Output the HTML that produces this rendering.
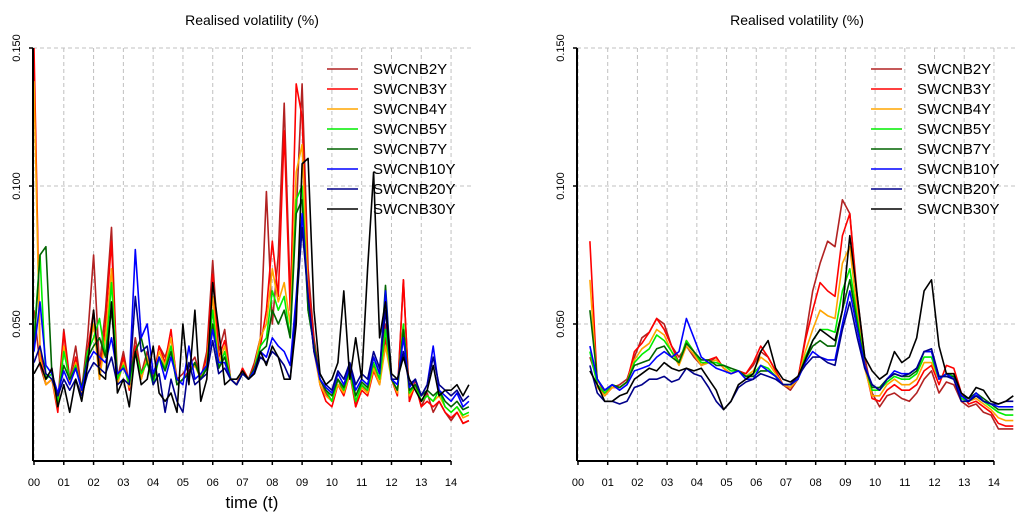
<!DOCTYPE html>
<html><head><meta charset="utf-8"><style>
html,body{margin:0;padding:0;background:#fff;}
svg{display:block;font-family:"Liberation Sans",sans-serif;}
</style></head><body>
<svg id="c" width="1024" height="519" viewBox="0 0 1024 519" xmlns="http://www.w3.org/2000/svg"></svg>
<script>
// values in thousandths (x 1e-3)
const seriesNames = ["SWCNB2Y","SWCNB3Y","SWCNB4Y","SWCNB5Y","SWCNB7Y","SWCNB10Y","SWCNB20Y","SWCNB30Y"];
const seriesColors = ["#b22222","#ff0000","#ffa500","#00ee00","#006400","#0000ff","#00008b","#000000"];
const yTickValues = [50,100,150];
const yTickLabels = ["0.050","0.100","0.150"];
const xTickLabels = ["00","01","02","03","04","05","06","07","08","09","10","11","12","13","14"];
const leftStart = 0, leftStep = 0.2;
const left2Y = [55,35,28,30,22,48,30,42,26,45,75,35,55,85,30,40,28,45,32,40,30,42,38,45,30,32,35,38,30,40,73,40,48,30,28,34,30,36,45,98,50,75,130,60,90,137,70,45,30,25,22,30,25,35,20,28,25,35,30,50,30,25,66,22,30,20,25,18,22,18,15,18,14,15];
const left3Y = [150,40,28,30,18,47,28,38,25,40,55,30,50,80,28,38,26,42,30,38,28,42,36,48,28,30,33,36,30,38,68,38,44,30,28,34,30,35,42,55,80,60,120,55,137,125,65,42,28,22,20,28,24,32,20,26,24,33,28,45,30,24,66,22,28,20,22,20,22,18,16,18,14,15];
const left4Y = [138,38,28,30,20,42,28,36,25,38,50,30,45,70,28,36,27,40,30,38,28,40,35,45,28,30,32,35,30,36,60,36,42,30,28,33,30,34,45,50,70,58,65,50,105,115,60,40,28,24,22,28,25,32,22,27,25,34,28,42,30,25,50,24,28,22,24,22,24,20,18,20,16,17];
const left5Y = [45,75,30,32,22,40,30,35,26,40,45,52,38,65,30,35,28,40,32,36,28,38,34,42,28,30,32,36,30,35,55,34,40,30,28,32,30,34,42,45,62,55,60,45,95,100,55,42,30,26,22,30,26,33,22,28,26,36,30,48,30,26,50,25,28,22,24,22,26,20,18,20,17,18];
const left7Y = [42,75,78,32,24,35,30,34,27,38,42,45,38,55,32,34,30,40,45,36,30,38,33,40,28,30,32,36,30,34,50,34,38,30,28,32,30,34,40,42,55,50,55,45,90,95,55,42,30,26,24,30,27,34,24,29,27,38,32,64,30,26,48,26,28,24,26,24,26,22,20,22,19,20];
const left10Y = [40,58,35,32,25,33,28,34,26,36,40,38,36,45,32,34,30,77,45,50,32,38,30,38,30,28,42,30,32,35,48,36,36,30,28,32,30,33,40,38,45,42,40,35,60,90,60,40,30,27,25,32,28,35,26,30,28,38,32,62,30,28,45,27,30,24,28,42,26,24,22,25,20,22];
const left20Y = [36,42,32,30,24,30,26,30,24,32,36,34,32,38,28,30,28,60,40,42,28,32,18,30,22,18,36,28,30,32,44,32,34,30,28,32,30,32,38,36,40,38,35,30,55,85,60,40,32,28,26,33,30,36,28,32,30,40,34,55,30,30,40,28,30,24,28,38,28,26,24,26,22,24];
const left30Y = [32,36,30,34,20,28,18,30,22,35,55,32,30,58,25,30,20,40,28,30,42,25,22,25,18,50,28,55,22,30,65,48,28,30,30,33,30,32,40,35,42,38,30,30,50,108,110,55,32,28,30,36,62,30,45,30,70,105,45,58,32,30,38,30,26,22,26,35,24,26,26,28,24,28];
const rightStart = 0.4, rightStep = 0.25;
const right2Y = [38,30,25,27,28,30,38,45,47,52,50,42,38,42,38,35,36,38,34,32,33,32,35,40,38,33,28,26,30,45,62,72,80,78,95,90,60,38,25,20,24,25,23,22,25,30,33,25,29,28,22,20,21,18,17,12,12,12];
const right3Y = [80,28,24,27,27,29,40,43,47,52,48,42,36,44,40,35,37,38,34,32,33,32,36,42,38,33,28,27,30,44,55,65,62,60,82,90,58,35,23,22,26,28,26,26,28,33,35,28,35,34,25,21,22,20,18,14,13,13];
const right4Y = [66,27,24,27,27,29,37,41,43,48,46,40,35,42,39,35,36,37,34,32,33,31,33,38,36,32,28,27,30,40,48,55,53,52,72,78,54,34,24,24,28,30,28,28,30,36,36,30,32,32,24,22,23,21,19,16,15,15];
const right5Y = [40,28,25,28,27,29,36,39,41,46,44,40,36,44,40,36,36,36,35,33,33,31,32,35,34,31,28,28,30,38,44,48,48,47,62,70,52,35,26,26,29,31,30,30,32,38,38,30,32,31,23,22,24,22,20,18,17,17];
const right7Y = [55,30,26,28,27,29,35,36,37,41,42,38,36,43,40,37,37,35,35,34,33,31,31,33,33,31,28,28,30,37,42,44,42,42,55,66,50,35,27,27,30,32,31,31,33,40,40,31,31,31,24,23,25,23,21,19,19,19];
const right10Y = [42,30,26,28,26,28,33,34,35,38,40,38,40,52,45,38,36,34,33,32,33,30,30,35,33,31,28,28,30,36,40,38,37,37,50,62,48,35,28,26,30,33,32,32,34,40,40,30,32,30,24,22,25,22,21,20,20,20];
const right20Y = [35,25,22,22,21,22,27,28,30,30,31,29,30,34,32,31,27,22,19,22,27,29,30,32,31,30,28,28,31,35,38,38,36,35,48,58,45,34,28,26,30,32,31,32,34,40,41,31,31,30,22,22,24,22,21,21,22,22];
const right30Y = [33,28,22,22,24,25,30,32,34,33,36,34,33,34,33,34,30,26,19,22,28,30,32,40,44,34,30,29,31,37,44,48,46,44,55,82,60,38,33,30,32,40,36,38,45,62,66,42,32,32,25,23,27,26,22,21,22,24];

const leftData = [left2Y,left3Y,left4Y,left5Y,left7Y,left10Y,left20Y,left30Y];
const rightData = [right2Y,right3Y,right4Y,right5Y,right7Y,right10Y,right20Y,right30Y];
const NS = "http://www.w3.org/2000/svg";
const svg = document.getElementById('c');
function mk(tag, attrs, parent, text){
  const e = document.createElementNS(NS, tag);
  for (const k in attrs) e.setAttribute(k, attrs[k]);
  if (text !== undefined) e.textContent = text;
  (parent || svg).appendChild(e);
  return e;
}
function panel(id, x0, xPer, xEnd, cx, data, start, step, withXTitle){
  const X = t => x0 + t * xPer;
  const Y = v => 462 - v * 2.76;
  const g = mk('g', {});
  
  
  const axX = x0 - 1;
  // grid
  xTickLabels.forEach((lab, i) => {
    const l = mk('line', {x1:X(i), x2:X(i), y1:48, y2:460, stroke:'#c0c0c0', 'stroke-dasharray':'4,3', 'stroke-width':1}, g);
    
    
  });
  yTickValues.forEach(v => {
    const l = mk('line', {x1:axX, x2:xEnd, y1:Y(v), y2:Y(v), stroke:'#c0c0c0', 'stroke-dasharray':'4,3', 'stroke-width':1}, g);
    
    
  });
  // clip
  const cp = mk('clipPath', {id: id + '-clip'}, g);
  mk('rect', {x:axX, y:48, width:xEnd - axX, height:412}, cp);
  const sg = mk('g', {'clip-path':'url(#' + id + '-clip)'}, g);
  data.forEach((arr, s) => {
    const pts = arr.map((v, i) => X(start + i * step).toFixed(1) + ',' + Y(v).toFixed(1)).join(' ');
    const p = mk('polyline', {points: pts, fill:'none', stroke: seriesColors[s], 'stroke-width':1.6, 'stroke-linejoin':'round'}, sg);
    
    
  });
  // axes
  const ya = mk('line', {x1:axX, x2:axX, y1:48, y2:461, stroke:'#000', 'stroke-width':2}, g);
  
  
  const xa = mk('line', {x1:X(0) - 1, x2:X(14), y1:461, y2:461, stroke:'#000', 'stroke-width':2}, g);
  
  
  yTickValues.forEach((v, i) => {
    mk('line', {x1:axX - 4, x2:axX, y1:Y(v), y2:Y(v), stroke:'#000', 'stroke-width':1.5}, g);
    const t = mk('text', {x:0, y:0, transform:'translate(' + (axX - 13) + ',' + Y(v) + ') rotate(-90)', 'text-anchor':'middle', 'font-size':11, fill:'#000'}, g, yTickLabels[i]);
    
    
  });
  xTickLabels.forEach((lab, i) => {
    mk('line', {x1:X(i), x2:X(i), y1:461, y2:465, stroke:'#000', 'stroke-width':1.5}, g);
    const t = mk('text', {x:X(i), y:486, 'text-anchor':'middle', 'font-size':11, fill:'#000'}, g, lab);
    
    
  });
  const title = mk('text', {x:cx, y:25, 'text-anchor':'middle', 'font-size':14, fill:'#000'}, g, 'Realised volatility (%)');
  
  
  if (withXTitle) {
    const xt = mk('text', {x:cx, y:508, 'text-anchor':'middle', 'font-size':17, fill:'#000'}, g, 'time (t)');
    
    
  }
  // legend
  const lx = X(0) + 293;
  const lg = mk('g', {}, g);
  
  
  seriesNames.forEach((n, i) => {
    const ly = 69 + i * 20;
    const e = mk('g', {}, lg);
    
    
    mk('line', {x1:lx, x2:lx + 31, y1:ly, y2:ly, stroke:seriesColors[i], 'stroke-width':1.6}, e);
    mk('text', {x:lx + 46, y:ly + 5, 'font-size':15, fill:'#000'}, e, n);
  });
}
panel('left', 34, 29.79, 472, 252, leftData, leftStart, leftStep, true);
panel('right', 578, 29.71, 1016, 797, rightData, rightStart, rightStep, false);
</script>
</body></html>
